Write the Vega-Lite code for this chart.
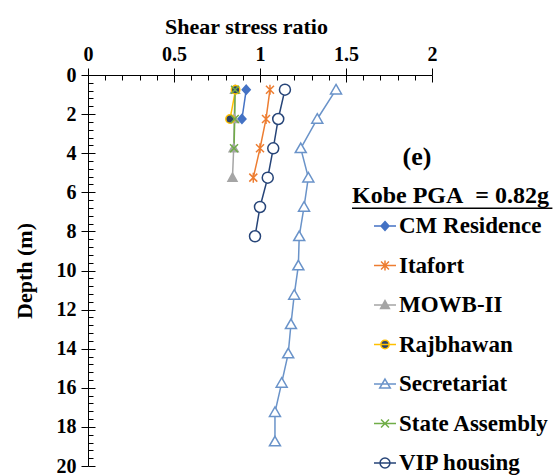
{
  "$schema": "https://vega.github.io/schema/vega-lite/v6.json",
  "autosize": "none",
  "width": 344,
  "height": 391,
  "padding": {"left": 88, "top": 75, "right": 121, "bottom": 10},
  "background": "white",
  "config": {
    "view": {"stroke": null},
    "font": "Liberation Serif",
    "axis": {"labelFont": "Liberation Serif", "titleFont": "Liberation Serif", "labelFontWeight": "bold", "titleFontWeight": "bold", "labelColor": "black", "titleColor": "black", "domainColor": "black", "tickColor": "black", "grid": false, "labelFlush": false, "labelOverlap": false},
    "legend": {
      "orient": "none", "legendX": 285, "legendY": 139, "padding": 0,
      "rowPadding": 15.5, "labelOffset": 2, "labelFont": "Liberation Serif", "labelFontWeight": "bold", "labelFontSize": 23, "labelColor": "black", "labelLimit": 300,
      "symbolSize": 484, "symbolStrokeWidth": 1.5
    }
  },
  "datasets": {
    "main": [
      {"series": "CM Residence", "depth": 0.75, "ssr": 0.92},
      {"series": "CM Residence", "depth": 2.25, "ssr": 0.895},
      {"series": "Itafort", "depth": 0.75, "ssr": 1.058},
      {"series": "Itafort", "depth": 2.25, "ssr": 1.035},
      {"series": "Itafort", "depth": 3.75, "ssr": 1.0},
      {"series": "Itafort", "depth": 5.25, "ssr": 0.961},
      {"series": "MOWB-II", "depth": 0.75, "ssr": 0.855},
      {"series": "MOWB-II", "depth": 2.25, "ssr": 0.85},
      {"series": "MOWB-II", "depth": 3.75, "ssr": 0.847},
      {"series": "MOWB-II", "depth": 5.25, "ssr": 0.84},
      {"series": "Rajbhawan", "depth": 0.75, "ssr": 0.858},
      {"series": "Rajbhawan", "depth": 2.25, "ssr": 0.826},
      {"series": "Secretariat", "depth": 0.75, "ssr": 1.442},
      {"series": "Secretariat", "depth": 2.25, "ssr": 1.333},
      {"series": "Secretariat", "depth": 3.75, "ssr": 1.237},
      {"series": "Secretariat", "depth": 5.25, "ssr": 1.281},
      {"series": "Secretariat", "depth": 6.75, "ssr": 1.256},
      {"series": "Secretariat", "depth": 8.25, "ssr": 1.228},
      {"series": "Secretariat", "depth": 9.75, "ssr": 1.223},
      {"series": "Secretariat", "depth": 11.25, "ssr": 1.199},
      {"series": "Secretariat", "depth": 12.75, "ssr": 1.18},
      {"series": "Secretariat", "depth": 14.25, "ssr": 1.164},
      {"series": "Secretariat", "depth": 15.75, "ssr": 1.126},
      {"series": "Secretariat", "depth": 17.25, "ssr": 1.087},
      {"series": "Secretariat", "depth": 18.75, "ssr": 1.087},
      {"series": "State Assembly", "depth": 0.75, "ssr": 0.855},
      {"series": "State Assembly", "depth": 2.25, "ssr": 0.853},
      {"series": "State Assembly", "depth": 3.75, "ssr": 0.849},
      {"series": "VIP housing", "depth": 0.75, "ssr": 1.145},
      {"series": "VIP housing", "depth": 2.25, "ssr": 1.106},
      {"series": "VIP housing", "depth": 3.75, "ssr": 1.077},
      {"series": "VIP housing", "depth": 5.25, "ssr": 1.045},
      {"series": "VIP housing", "depth": 6.75, "ssr": 1.0},
      {"series": "VIP housing", "depth": 8.25, "ssr": 0.971}
    ]
  },
  "resolve": {
    "scale": {"x": "shared", "y": "shared", "stroke": "independent", "fill": "independent", "shape": "independent"},
    "axis": {"x": "independent", "y": "independent"},
    "legend": {"stroke": "independent", "fill": "independent", "shape": "independent"}
  },
  "layer": [
    {
      "data": {"name": "main"},
      "mark": {"type": "line", "strokeWidth": 1.5},
      "encoding": {
        "x": {"field": "ssr", "type": "quantitative", "scale": {"domain": [0, 2], "nice": false, "zero": false},
          "axis": {"orient": "top", "values": [0, 0.5, 1, 1.5, 2], "format": "~g", "tickSize": 7, "labelPadding": 4, "labelFontSize": 20, "title": "Shear stress ratio", "titleFontSize": 22, "titlePadding": 6, "titleX": 158}},
        "y": {"field": "depth", "type": "quantitative", "scale": {"domain": [0, 20], "reverse": true, "nice": false, "zero": false},
          "axis": {"orient": "left", "values": [0, 2, 4, 6, 8, 10, 12, 14, 16, 18, 20], "format": "~g", "tickSize": 7, "labelPadding": 5, "labelFontSize": 20, "title": "Depth (m)", "titleFontSize": 22, "titlePadding": 20}},
        "stroke": {"field": "series", "type": "nominal", "legend": null,
          "scale": {"domain": ["CM Residence", "Itafort", "MOWB-II", "Rajbhawan", "Secretariat", "State Assembly", "VIP housing"],
            "range": ["#4472C4", "#ED7D31", "#A5A5A5", "#FFC000", "#6A93C9", "#70AD47", "#264478"]}},
        "order": {"field": "depth", "type": "quantitative"}
      }
    },
    {
      "data": {"name": "main"},
      "mark": {"type": "point", "strokeWidth": 1.5, "opacity": 1, "size": 100},
      "encoding": {
        "x": {"field": "ssr", "type": "quantitative",
          "axis": {"orient": "top", "values": [0,0.1,0.2,0.3,0.4,0.5,0.6,0.7,0.8,0.9,1,1.1,1.2,1.3,1.4,1.5,1.6,1.7,1.8,1.9,2], "labels": false, "domain": false, "title": null,
            "tickSize": {"condition": {"test": "indexof([0,0.5,1,1.5,2], datum.value) >= 0", "value": -7}, "value": -5}}},
        "y": {"field": "depth", "type": "quantitative",
          "axis": {"orient": "left", "values": [0,0.4,0.8,1.2,1.6,2,2.4,2.8,3.2,3.6,4,4.4,4.8,5.2,5.6,6,6.4,6.8,7.2,7.6,8,8.4,8.8,9.2,9.6,10,10.4,10.8,11.2,11.6,12,12.4,12.8,13.2,13.6,14,14.4,14.8,15.2,15.6,16,16.4,16.8,17.2,17.6,18,18.4,18.8,19.2,19.6,20], "labels": false, "domain": false, "title": null,
            "tickSize": {"condition": {"test": "indexof([0,2,4,6,8,10,12,14,16,18,20], datum.value) >= 0", "value": -7}, "value": -5}}},
        "stroke": {"field": "series", "type": "nominal", "legend": null,
          "scale": {"domain": ["CM Residence", "Itafort", "MOWB-II", "Rajbhawan", "Secretariat", "State Assembly", "VIP housing"],
            "range": ["#4472C4", "#ED7D31", "#A5A5A5", "#FFC000", "#6A93C9", "#70AD47", "#264478"]}},
        "fill": {"field": "series", "type": "nominal", "legend": null,
          "scale": {"domain": ["CM Residence", "Itafort", "MOWB-II", "Rajbhawan", "Secretariat", "State Assembly", "VIP housing"],
            "range": ["#4472C4", "#ffffff", "#A5A5A5", "#2E4466", "#ffffff", "#ffffff", "#ffffff"]}},
        "shape": {"field": "series", "type": "nominal", "legend": null,
          "scale": {"domain": ["CM Residence", "Itafort", "MOWB-II", "Rajbhawan", "Secretariat", "State Assembly", "VIP housing"],
            "range": [
              "M0,-0.9L0.8,0L0,0.9L-0.8,0Z",
              "M-0.8,-0.8L0.8,0.8M-0.8,0.8L0.8,-0.8M0,-1L0,1",
              "M0,-0.9L0.9,0.7L-0.9,0.7Z",
              "M0.85,0A0.85,0.85,0,1,1,-0.85,0A0.85,0.85,0,1,1,0.85,0Z",
              "M0,-1.05L1.1,0.85L-1.1,0.85Z",
              "M-0.8,-0.8L0.8,0.8M-0.8,0.8L0.8,-0.8",
              "M1.1,0A1.1,1.1,0,1,1,-1.1,0A1.1,1.1,0,1,1,1.1,0Z"
            ]}}
      }
    },
    {
      "data": {"values": []},
      "mark": {"type": "point", "strokeWidth": 1.5, "opacity": 1, "size": 484},
      "encoding": {
        "x": {"field": "ssr", "type": "quantitative", "axis": null},
        "y": {"field": "depth", "type": "quantitative", "axis": null},
        "stroke": {"field": "series", "type": "nominal", "title": null,
          "scale": {"domain": ["CM Residence", "Itafort", "MOWB-II", "Rajbhawan", "Secretariat", "State Assembly", "VIP housing"],
            "range": ["#4472C4", "#ED7D31", "#A5A5A5", "#FFC000", "#6A93C9", "#70AD47", "#264478"]}},
        "fill": {"field": "series", "type": "nominal", "title": null,
          "scale": {"domain": ["CM Residence", "Itafort", "MOWB-II", "Rajbhawan", "Secretariat", "State Assembly", "VIP housing"],
            "range": ["#4472C4", "#ffffff", "#A5A5A5", "#2E4466", "#ffffff", "#ffffff", "#ffffff"]}},
        "shape": {"field": "series", "type": "nominal", "title": null,
          "scale": {"domain": ["CM Residence", "Itafort", "MOWB-II", "Rajbhawan", "Secretariat", "State Assembly", "VIP housing"],
            "range": [
              "M-1,0H1M0,-0.4L0.36,0L0,0.4L-0.36,0Z",
              "M-1,0H1M-0.36,-0.36L0.36,0.36M-0.36,0.36L0.36,-0.36M0,-0.45L0,0.45",
              "M-1,0H1M0,-0.4L0.4,0.32L-0.4,0.32Z",
              "M-1,0H1M0.38,0A0.38,0.38,0,1,1,-0.38,0A0.38,0.38,0,1,1,0.38,0Z",
              "M-1,0H1M0,-0.45L0.48,0.37L-0.48,0.37Z",
              "M-1,0H1M-0.36,-0.36L0.36,0.36M-0.36,0.36L0.36,-0.36",
              "M-1,0H1M0.45,0A0.45,0.45,0,1,1,-0.45,0A0.45,0.45,0,1,1,0.45,0Z"
            ]}}
      }
    },
    {
      "data": {"values": [{"label": "(e)", "ssr": 1.913, "depth": 4.19}]},
      "mark": {"type": "text", "font": "Liberation Serif", "fontWeight": "bold", "fontSize": 26, "align": "center", "baseline": "middle", "color": "black"},
      "encoding": {
        "x": {"field": "ssr", "type": "quantitative", "axis": null},
        "y": {"field": "depth", "type": "quantitative", "axis": null},
        "text": {"field": "label"}
      }
    },
    {
      "data": {"values": [{"label": "Kobe PGA\u00a0\u00a0= 0.82g", "ssr": 1.535, "depth": 6.19}]},
      "mark": {"type": "text", "font": "Liberation Serif", "fontWeight": "bold", "fontSize": 24, "align": "left", "baseline": "middle", "color": "black"},
      "encoding": {
        "x": {"field": "ssr", "type": "quantitative", "axis": null},
        "y": {"field": "depth", "type": "quantitative", "axis": null},
        "text": {"field": "label"}
      }
    },
    {
      "data": {"values": [{"ssr": 1.535, "ssr2": 2.7, "depth": 6.82}]},
      "mark": {"type": "rule", "color": "black", "strokeWidth": 1.5},
      "encoding": {
        "x": {"field": "ssr", "type": "quantitative", "axis": null},
        "x2": {"field": "ssr2"},
        "y": {"field": "depth", "type": "quantitative", "axis": null}
      }
    }
  ]
}
